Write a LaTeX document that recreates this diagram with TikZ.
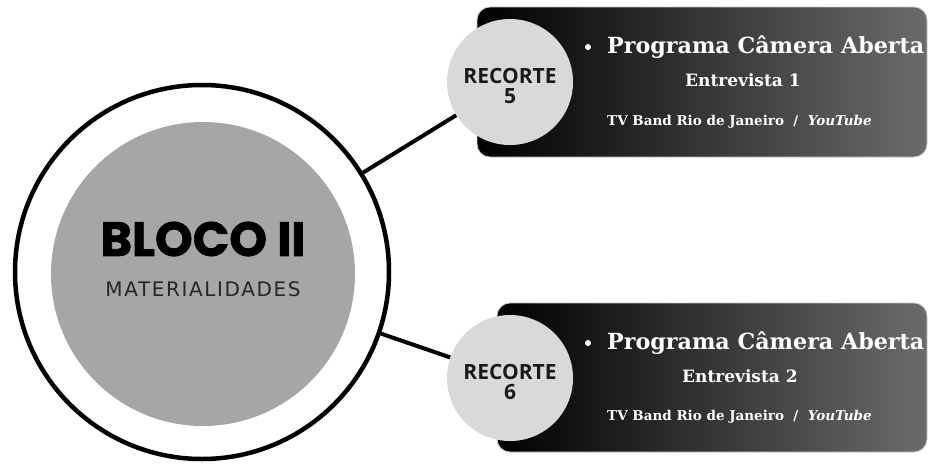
\documentclass[tikz,border=0pt]{standalone}
\usepackage{fontspec}
\setmainfont{DejaVu Serif}
\newfontfamily\popf{Poppins}[FakeBold=1.6]
\newfontfamily\dvs{DejaVu Sans}[LetterSpace=8]
\newfontfamily\opsf{Open Sans}
\newfontfamily\serb{DejaVu Serif}
\usetikzlibrary{backgrounds}
\definecolor{ringgray}{HTML}{A6A6A6}
\definecolor{smallgray}{HTML}{D9D9D9}
\definecolor{boxend}{HTML}{6B6B6B}
\definecolor{darktext}{HTML}{1A1A1A}
\tikzset{
  conn/.style={line width=4pt, draw=black},
  bigring/.style={circle, draw=black, line width=4.5pt, fill=white, minimum size=374pt, inner sep=0pt},
  innerdisc/.style={circle, fill=ringgray, minimum size=304pt, inner sep=0pt},
  recbox/.style={left color=black, right color=boxend, rounded corners=13pt},
  recbord/.style={draw=gray!45, line width=0.8pt, rounded corners=13pt},
  rcirc/.style={circle, fill=smallgray, minimum size=126pt, inner sep=0pt},
  rlabel/.style={align=center, inner sep=0pt, font=\opsf\bfseries\fontsize{21}{20}\selectfont, text=darktext},
  titletxt/.style={anchor=west, text=white, font=\serb\bfseries\fontsize{22.2}{24}\selectfont, inner sep=0pt},
  subtxt/.style={anchor=west, text=white, font=\serb\bfseries\fontsize{17}{18}\selectfont, inner sep=0pt},
  srctxt/.style={anchor=west, text=white, font=\serb\bfseries\fontsize{13.5}{15}\selectfont, inner sep=0pt},
  bullet/.style={circle, fill=white, minimum size=6pt, inner sep=0pt},
}
\begin{document}
\begin{tikzpicture}[x=1pt,y=-1pt]
\useasboundingbox (0,0) rectangle (929,464);
% boxes
\shade[recbox] (477,7) rectangle (927,157);
\draw[recbord] (477,7) rectangle (927,157);
\shade[recbox] (497,303) rectangle (927,452);
\draw[recbord] (497,303) rectangle (927,452);
% main circle
\node[bigring] (big) at (202,272) {};
\node[innerdisc] (inner) at (203,274) {};
\node[font=\popf\bfseries\fontsize{48}{48}\selectfont, text=black, inner sep=0pt] (bloco) at (203,239) {BLOCO II};
\node[font=\dvs\fontsize{20}{20}\selectfont, text=black!85, inner sep=0pt] (mat) at (203,289) {MATERIALIDADES};
% small circles
\node[rcirc] (r5) at (510,82) {};
\node[rlabel] (r5t) at (510,86) {RECORTE\\5};
\node[rcirc] (r6) at (510,378) {};
\node[rlabel] (r6t) at (510,382) {RECORTE\\6};
% connectors
\begin{scope}[on background layer]
\draw[conn] (big) -- (r5);
\draw[conn] (big) -- (r6);
\end{scope}
% texts top
\node[bullet] (b1) at (588,47) {};
\node[titletxt] (t1) at (607,47) {Programa Câmera Aberta};
\node[subtxt] (s1) at (685,80) {Entrevista 1};
\node[srctxt] (c1) at (607,122) {TV Band Rio de Janeiro \ / \ \textit{YouTube}};
% texts bottom
\node[bullet] (b2) at (588,343) {};
\node[titletxt] (t2) at (607,343) {Programa Câmera Aberta};
\node[subtxt] (s2) at (682,376) {Entrevista 2};
\node[srctxt] (c2) at (607,417) {TV Band Rio de Janeiro \ / \ \textit{YouTube}};
\end{tikzpicture}
\end{document}
